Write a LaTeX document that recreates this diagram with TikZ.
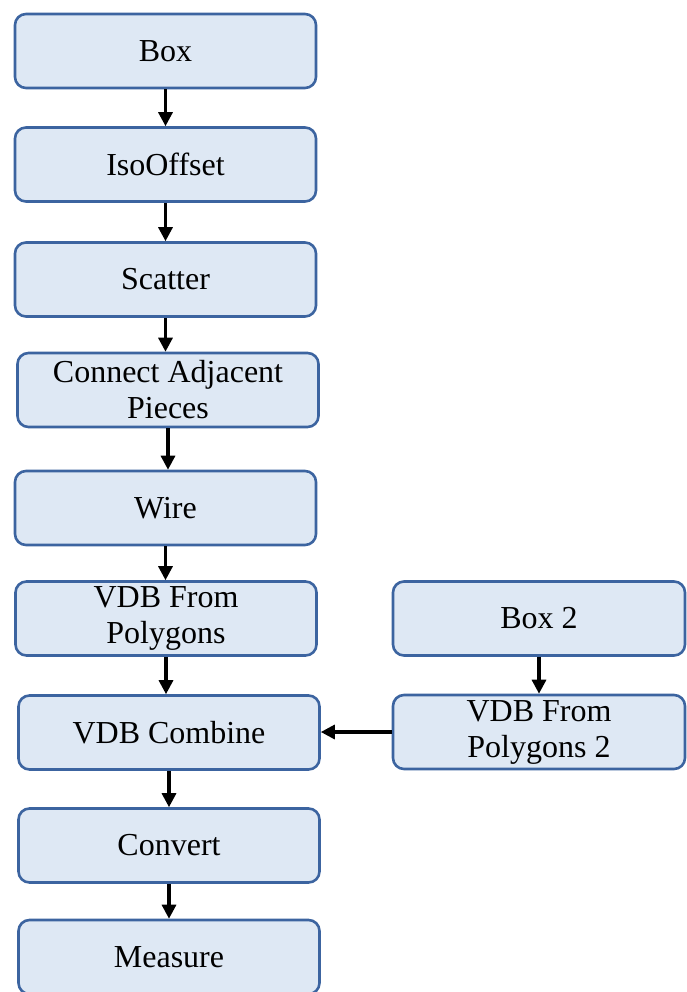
\documentclass[tikz,border=0pt]{standalone}
\usepackage{fontspec}
\setmainfont{LiberationSerif}[Extension=.ttf,UprightFont=*-Regular,BoldFont=*-Bold]
\usetikzlibrary{arrows.meta}
\usetikzlibrary{positioning}
\definecolor{stepfill}{HTML}{DEE8F4}
\definecolor{stepline}{HTML}{3C64A0}

\begin{document}
\begin{tikzpicture}[x=1pt,y=-1pt,
  stepbox/.style={draw=stepline,fill=stepfill,line width=2.6pt,rounded corners=11pt,
    minimum width=301pt,minimum height=74pt,align=center,inner sep=0pt,
    font=\fontsize{32}{36}\selectfont},
  flow/.style={-{Triangle[length=14pt,width=14pt]},line width=3.2pt,black}]
\useasboundingbox (0,0) rectangle (686,992);

\node[stepbox] (box) at (165.5,51) {Box};
\node[stepbox] (iso) at (165.5,164.5) {IsoOffset};
\node[stepbox] (scatter) at (165.5,279.5) {Scatter};
\node[stepbox] (connect) at (168,390) {Connect Adjacent\\Pieces};
\node[stepbox] (wire) at (165.5,508) {Wire};
\node[stepbox] (poly) at (166,618.5) {VDB From\\Polygons};
\node[stepbox] (combine) at (169,732.5) {VDB Combine};
\node[stepbox] (convert) at (169,845.5) {Convert};
\node[stepbox] (measure) at (169,957) {Measure};

\node[stepbox,minimum width=292pt] (box2) at (539,618.5) {Box 2};
\node[stepbox,minimum width=292pt] (poly2) at (539,732) {VDB From\\Polygons 2};

\draw[flow] (box.south) -- (iso.north);
\draw[flow] (iso.south) -- (scatter.north);
\draw[flow] (scatter.south) -- (scatter.south |- connect.north);
\draw[flow] (connect.south) -- (connect.south |- wire.north);
\draw[flow] (wire.south) -- (wire.south |- poly.north);
\draw[flow] (poly.south) -- (poly.south |- combine.north);
\draw[flow] (combine.south) -- (convert.north);
\draw[flow] (convert.south) -- (measure.north);
\draw[flow] (box2.south) -- (poly2.north);
\draw[flow] (poly2.west) -- (combine.east |- poly2.west);

\end{tikzpicture}
\end{document}
